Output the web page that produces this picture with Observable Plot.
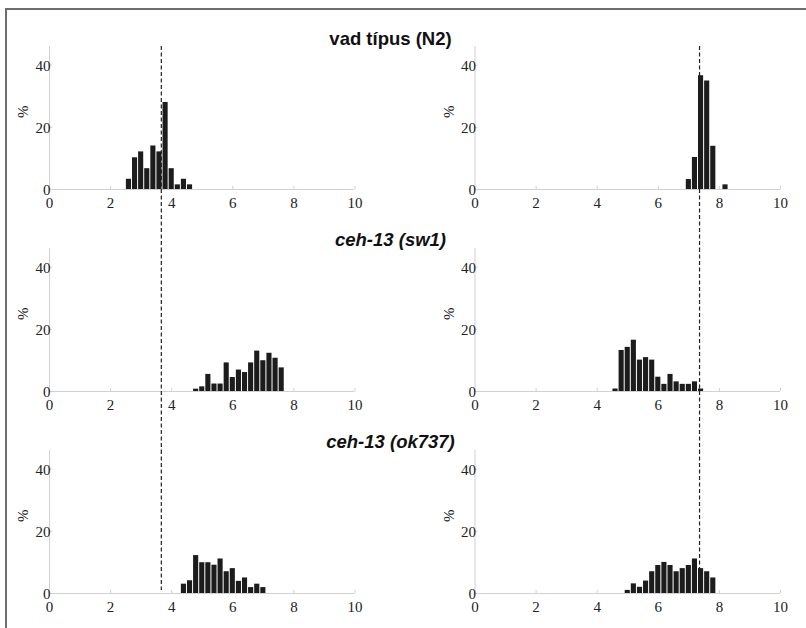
<!DOCTYPE html>
<html>
<head>
<meta charset="utf-8">
<script src="https://cdn.jsdelivr.net/npm/d3@7"></script>
<script src="https://cdn.jsdelivr.net/npm/@observablehq/plot@0.6"></script>
<style>
  html, body { margin: 0; padding: 0; background: #fff; }
  #wrap { position: relative; width: 806px; height: 628px; overflow: hidden; background: #fff; }
  #frame { position: absolute; left: 5px; top: 8px; width: 1000px; height: 1000px;
           border-top: 2px solid #6e6e6e; border-left: 2px solid #6e6e6e; pointer-events: none; }
  #chart { position: absolute; left: 0; top: 0; }
</style>
</head>
<body>
<div id="wrap"><div id="chart"></div><div id="frame"></div></div>
<script>
// ---- data (percent of animals per 0.2-wide bin) ----
const rowKeys = ["N2", "sw1", "ok737"];
const rowTitles = ["vad típus (N2)", "ceh-13 (sw1)", "ceh-13 (ok737)"];
const colKeys = ["L", "R"];

const binsN2L = [2.6, 2.8, 3.0, 3.2, 3.4, 3.6, 3.8, 4.0, 4.2, 4.4, 4.6];
const pctN2L  = [3.3, 10.2, 12.1, 6.7, 14.0, 12.1, 28.0, 6.7, 1.5, 3.3, 1.5];
const binsN2R = [7.0, 7.2, 7.4, 7.6, 7.8, 8.0, 8.2];
const pctN2R  = [3.2, 10.3, 36.6, 34.9, 13.9, 0, 1.5];

const binsSw1L = [4.8, 5.0, 5.2, 5.4, 5.6, 5.8, 6.0, 6.2, 6.4, 6.6, 6.8, 7.0, 7.2, 7.4, 7.6];
const pctSw1L  = [0.75, 1.5, 5.5, 2.4, 2.4, 9.2, 4.5, 6.9, 6.1, 9.2, 13.0, 9.9, 12.3, 10.7, 7.6];
const binsSw1R = [4.6, 4.8, 5.0, 5.2, 5.4, 5.6, 5.8, 6.0, 6.2, 6.4, 6.6, 6.8, 7.0, 7.2, 7.4];
const pctSw1R  = [0.8, 13.2, 14.2, 16.5, 10.1, 10.9, 10.1, 4.6, 2.3, 5.5, 3.1, 2.3, 2.3, 3.1, 0.8];

const binsOkL = [4.4, 4.6, 4.8, 5.0, 5.2, 5.4, 5.6, 5.8, 6.0, 6.2, 6.4, 6.6, 6.8, 7.0];
const pctOkL  = [3.0, 4.1, 12.2, 9.9, 9.9, 9.1, 11.1, 7.0, 8.0, 3.9, 5.0, 1.9, 3.0, 1.9];
const binsOkR = [5.0, 5.2, 5.4, 5.6, 5.8, 6.0, 6.2, 6.4, 6.6, 6.8, 7.0, 7.2, 7.4, 7.6, 7.8];
const pctOkR  = [1.0, 3.1, 2.0, 4.0, 7.0, 9.0, 10.0, 9.0, 7.0, 8.0, 9.0, 11.1, 8.0, 7.0, 5.0];

const binWidth = 0.2;
const wildTypeMean = { L: 3.66, R: 7.35 };   // dashed reference lines (N2)
const xTicks = [0, 2, 4, 6, 8, 10];
const yTicks = [0, 20, 40];
const yLabel = "%";

// ---- build table ----
const panels = [
  { row: "N2", col: "L", bins: binsN2L, pct: pctN2L },
  { row: "N2", col: "R", bins: binsN2R, pct: pctN2R },
  { row: "sw1", col: "L", bins: binsSw1L, pct: pctSw1L },
  { row: "sw1", col: "R", bins: binsSw1R, pct: pctSw1R },
  { row: "ok737", col: "L", bins: binsOkL, pct: pctOkL },
  { row: "ok737", col: "R", bins: binsOkR, pct: pctOkR }
];
const bars = panels.flatMap(p => p.bins.map((b, i) => ({ row: p.row, col: p.col, x: b, v: p.pct[i] })));

const refLines = [];
rowKeys.forEach((r, ri) => colKeys.forEach(c => {
  const last = ri === rowKeys.length - 1;
  refLines.push({ row: r, col: c, x: wildTypeMean[c], y1: 46, y2: last ? (c === "L" ? 1 : 0) : -19 });
}));
const titles = rowKeys.map((r, i) => ({ row: r, col: "L", text: rowTitles[i] }));

const axisColor = "#cfd0d8";
const serif = "'Liberation Serif', 'Times New Roman', serif";

const chart = Plot.plot({
  width: 806,
  height: 628,
  marginLeft: 49,
  marginRight: 26,
  marginTop: 46,
  marginBottom: 35,
  style: { background: "transparent", overflow: "visible" },
  fx: { domain: colKeys, paddingInner: 0.282, paddingOuter: 0, round: false, axis: null },
  fy: { domain: rowKeys, paddingInner: 0.292, paddingOuter: 0, round: false, axis: null },
  x: { domain: [0, 10], axis: null },
  y: { domain: [0, 46], axis: null },
  marks: [
    // axes
    Plot.ruleY([0], { x1: 0, x2: 10, stroke: axisColor, strokeWidth: 1 }),
    Plot.ruleX([0], { y1: 0, y2: 46, stroke: axisColor, strokeWidth: 1 }),
    Plot.ruleX(xTicks, { x: d => d, y1: 0, y2: 1, stroke: axisColor }),
    Plot.ruleY(yTicks, { y: d => d, x1: 0, x2: 0.1, stroke: axisColor }),
    Plot.text(xTicks, { x: d => d, y: 0, dy: 13.5, text: d => String(d), fontFamily: serif, fontSize: 15, fill: "#222", lineAnchor: "middle" }),
    Plot.text(yTicks, { x: 0, y: d => d, dx: 1, dy: 1, text: d => String(d), textAnchor: "end", fontFamily: serif, fontSize: 15, fill: "#222", lineAnchor: "middle" }),
    Plot.text([yLabel], { frameAnchor: "left", dx: -26, rotate: -90, text: d => d, fontFamily: serif, fontSize: 15, fill: "#222" }),
    // dashed wild-type reference lines
    Plot.ruleX(refLines, { x: "x", y1: "y1", y2: "y2", fx: "col", fy: "row", stroke: "#222", strokeWidth: 1.2, strokeDasharray: "4,2.5" }),
    // histogram bars
    Plot.rectY(bars, { x1: d => d.x - binWidth / 2, x2: d => d.x + binWidth / 2, y: "v", fx: "col", fy: "row",
                       fill: "#1c1c1c", insetLeft: 0.5, insetRight: 0.5 }),
    // row titles
    Plot.text(titles.slice(0, 1), { fx: "col", fy: "row", text: "text", frameAnchor: "top-right", dx: 35.5, dy: -2,
      textAnchor: "middle", lineAnchor: "bottom", fontFamily: "'Liberation Sans', Arial, sans-serif", fontWeight: "bold", fontSize: 18.5, fill: "#111" }),
    Plot.text(titles.slice(1), { fx: "col", fy: "row", text: "text", frameAnchor: "top-right", dx: 35.5, dy: -2,
      textAnchor: "middle", lineAnchor: "bottom", fontFamily: "'Liberation Sans', Arial, sans-serif", fontWeight: "bold", fontStyle: "italic", fontSize: 18.5, fill: "#111" })
  ]
});
document.getElementById("chart").appendChild(chart);
</script>
</body>
</html>
